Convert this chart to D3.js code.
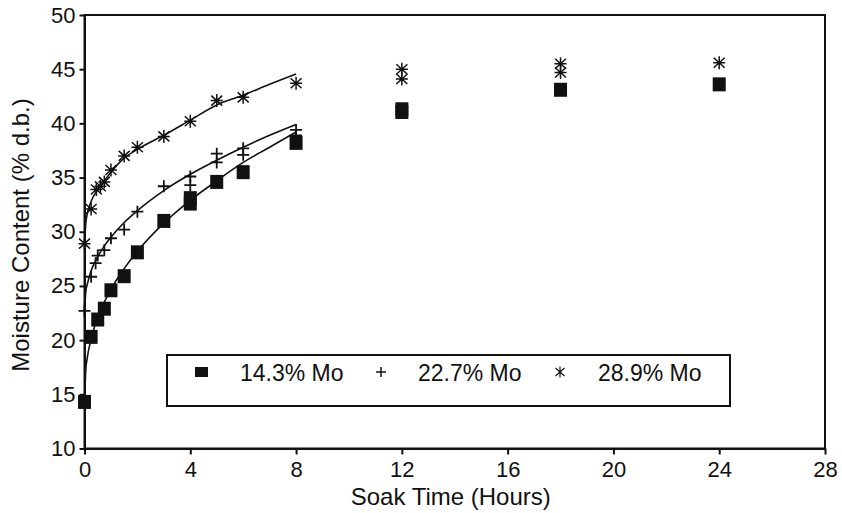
<!DOCTYPE html>
<html>
<head>
<meta charset="utf-8">
<script src="https://d3js.org/d3.v7.min.js"></script>
<style>
body { margin: 0; background: #fff; }
text { font-family: "Liberation Sans", Arial, Helvetica, sans-serif; fill: #111; }
</style>
</head>
<body>
<svg id="chart"></svg>
<script>
var xTicks = [0, 4, 8, 12, 16, 20, 24, 28];
var yTicks = [10, 15, 20, 25, 30, 35, 40, 45, 50];
var seriesNames = ["14.3% Mo", "22.7% Mo", "28.9% Mo"];

// measured points (soak time in hours, moisture % d.b.)
var sqTime  = [0, 0.25, 0.5, 0.75, 1, 1.5, 2, 3, 4, 4, 5, 6, 8, 12, 12, 18, 24];
var sqMoist = [14.3, 20.3, 21.9, 22.9, 24.6, 25.9, 28.1, 31.0, 33.1, 32.6, 34.6, 35.5, 38.2, 41.3, 41.05, 43.1, 43.6];

var plTime  = [0, 0.25, 0.42, 0.5, 0.75, 1, 1.5, 2, 3, 4, 4, 5, 5, 6, 6, 8, 8];
var plMoist = [22.7, 25.85, 27.1, 27.8, 28.3, 29.4, 30.2, 31.85, 34.2, 35.1, 34.3, 37.2, 36.4, 37.7, 37.1, 39.4, 38.9];

var stTime  = [0, 0.25, 0.45, 0.6, 0.75, 1, 1.5, 2, 3, 4, 5, 6, 8, 12, 12, 18, 18, 24];
var stMoist = [28.9, 32.1, 33.9, 34.2, 34.6, 35.7, 37.0, 37.8, 38.8, 40.2, 42.1, 42.4, 43.7, 45.0, 44.1, 45.5, 44.7, 45.6];

// fitted curves
var fitTime = [0, 0.05, 0.1, 0.25, 0.5, 0.75, 1, 1.5, 2, 3, 4, 5, 6, 7, 8];
var fitSq = [14.3, 17.3, 18.3, 20.1, 22.1, 23.5, 24.7, 26.6, 28.2, 30.8, 32.9, 34.7, 36.4, 37.8, 39.2];
var fitPl = [22.7, 24.5, 25.1, 26.4, 27.7, 28.7, 29.5, 30.85, 31.95, 33.8, 35.3, 36.6, 37.8, 38.9, 39.9];
var fitSt = [28.9, 30.8, 31.6, 32.8, 33.9, 34.7, 35.5, 36.8, 37.6, 38.9, 40.3, 41.7, 42.6, 43.6, 44.55];

var svg = d3.select("#chart").attr("width", 842).attr("height", 513),
    margin = {top: 15, right: 17, bottom: 64.5, left: 84.5},
    width = +svg.attr("width") - margin.left - margin.right,
    height = +svg.attr("height") - margin.top - margin.bottom;

var xScale = d3.scaleLinear().domain([0, 28]).range([0, width]);
var yScale = d3.scaleLinear().domain([10, 50]).range([height, 0]);

var g = svg.append("g")
	.attr("transform", "translate(" + margin.left + "," + margin.top + ")");

// frame
g.append("rect")
	.attr("width", width)
	.attr("height", height)
	.attr("fill", "none")
	.attr("stroke", "#111")
	.attr("stroke-width", 2);

var xAxis = g.append("g")
	.attr("transform", "translate(0," + height + ")")
	.call(d3.axisBottom(xScale).tickValues(xTicks).tickSize(6).tickSizeOuter(0).tickPadding(7));

var yAxis = g.append("g")
	.call(d3.axisLeft(yScale).tickValues(yTicks).tickSize(5).tickSizeOuter(0).tickPadding(4));

g.selectAll(".domain, .tick line")
	.attr("stroke", "#111")
	.attr("stroke-width", 2);

g.selectAll(".tick text")
	.attr("fill", "#111")
	.style("font-size", "22px")
	.style("font-family", "'Liberation Sans', Arial, sans-serif");

svg.append("text")
	.attr("x", margin.left + width / 2 - 4)
	.attr("y", 505)
	.attr("text-anchor", "middle")
	.style("font-size", "24px")
	.text("Soak Time (Hours)");

svg.append("text")
	.attr("transform", "translate(29,235) rotate(-90)")
	.attr("text-anchor", "middle")
	.style("font-size", "24px")
	.text("Moisture Content (% d.b.)");

// fitted lines
var line = d3.line()
	.x(function(d){ return xScale(d[0]); })
	.y(function(d){ return yScale(d[1]); })
	.curve(d3.curveMonotoneX);

[fitSq, fitPl, fitSt].forEach(function(fit){
	g.append("path")
		.datum(fitTime.map(function(t, i){ return [t, fit[i]]; }))
		.attr("d", line)
		.attr("fill", "none")
		.attr("stroke", "#111")
		.attr("stroke-width", 1.6);
});

var plusPath = "M-6,0H6M0,-6V6";
var starPath = "M0,-6.5V6.5M-5.5,-5L5.5,5M-5.5,5L5.5,-5M-6,0H6";

// square markers
g.selectAll(".sq")
	.data(sqTime.map(function(t, i){ return [t, sqMoist[i]]; }))
	.enter()
	.append("rect")
		.attr("class", "sq")
		.attr("x", function(d){ return xScale(d[0]) - 6.5; })
		.attr("y", function(d){ return yScale(d[1]) - 7; })
		.attr("width", 13)
		.attr("height", 14)
		.attr("fill", "#111");

g.selectAll(".pl")
	.data(plTime.map(function(t, i){ return [t, plMoist[i]]; }))
	.enter()
	.append("path")
		.attr("class", "pl")
		.attr("transform", function(d){ return "translate(" + xScale(d[0]) + "," + yScale(d[1]) + ")"; })
		.attr("d", plusPath)
		.attr("stroke", "#111")
		.attr("stroke-width", 1.8)
		.attr("fill", "none");

g.selectAll(".st")
	.data(stTime.map(function(t, i){ return [t, stMoist[i]]; }))
	.enter()
	.append("path")
		.attr("class", "st")
		.attr("transform", function(d){ return "translate(" + xScale(d[0]) + "," + yScale(d[1]) + ")"; })
		.attr("d", starPath)
		.attr("stroke", "#111")
		.attr("stroke-width", 1.5)
		.attr("fill", "none");

// legend
var legend = svg.append("g").attr("class", "legend");

legend.append("rect")
	.attr("x", 167)
	.attr("y", 355)
	.attr("width", 563)
	.attr("height", 51)
	.attr("fill", "#fff")
	.attr("stroke", "#111")
	.attr("stroke-width", 2);

var markX = [201.5, 381, 560];
var textX = [240, 418, 598];

legend.append("rect")
	.attr("x", markX[0] - 6.5)
	.attr("y", 367)
	.attr("width", 13)
	.attr("height", 10)
	.attr("fill", "#111");

legend.append("path")
	.attr("transform", "translate(" + markX[1] + ",372)")
	.attr("d", "M-5,0H5M0,-5V5")
	.attr("stroke", "#111")
	.attr("stroke-width", 1.5);

legend.append("path")
	.attr("transform", "translate(" + markX[2] + ",372)")
	.attr("d", "M0,-5.5V5.5M-4.5,-4L4.5,4M-4.5,4L4.5,-4")
	.attr("stroke", "#111")
	.attr("stroke-width", 1.2);

legend.selectAll(".ltext")
	.data(seriesNames)
	.enter()
	.append("text")
		.attr("class", "ltext")
		.attr("x", function(d, i){ return textX[i]; })
		.attr("y", 381)
		.style("font-size", "23px")
		.text(function(d){ return d; });
</script>
</body>
</html>
